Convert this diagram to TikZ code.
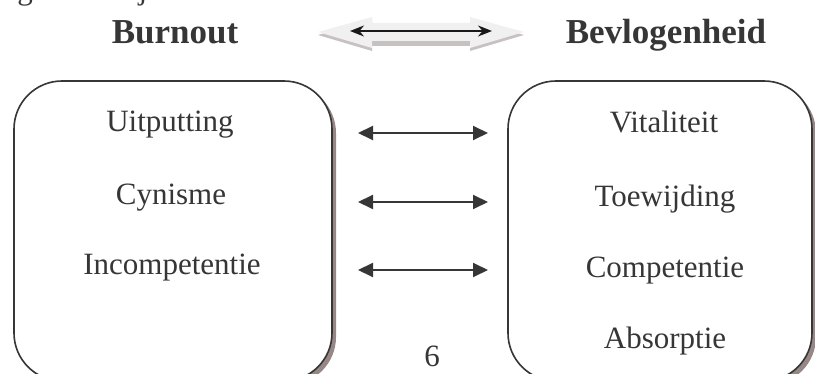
\documentclass[tikz,border=0pt]{standalone}
\usepackage{fontspec}
\setmainfont{Liberation Serif}
\usetikzlibrary{arrows.meta,shadows}
\definecolor{strokec}{HTML}{363636}
\definecolor{shadowc}{HTML}{968886}
\definecolor{fatc}{HTML}{F0F0F0}
\definecolor{fatshadow}{HTML}{C8C1C1}
\tikzset{
  box/.style={draw=strokec, line width=1.6pt, fill=white, rounded corners=48pt,
    drop shadow={shadow xshift=4pt, shadow yshift=-4pt, fill=shadowc, opacity=1}},
  lbl/.style={anchor=base, inner sep=0pt, text=strokec, font=\fontsize{31}{36}\selectfont},
  head/.style={anchor=base, inner sep=0pt, text=strokec, font=\fontsize{35}{40}\selectfont\bfseries},
  link/.style={draw=strokec, line width=2pt, {Triangle[length=15pt,width=14pt]}-{Triangle[length=15pt,width=14pt]}},
  thin link/.style={draw=black!90, line width=1.6pt, {Stealth[length=14pt,width=11pt]}-{Stealth[length=14pt,width=11pt]}}
}
\begin{document}
\begin{tikzpicture}[x=1pt,y=-1pt]
\useasboundingbox (0,0) rectangle (815,374);
% partial line at top (only descenders visible)
\node[lbl] (topg) at (25,0) {g};
\node[lbl] (topj) at (143,0) {j};
% headings
\node[head] (burn) at (175,44) {Burnout};
\node[head] (bevl) at (666,44) {Bevlogenheid};
% fat double arrow with shadow
\fill[fatshadow] (318,35) -- (372,20) -- (372,27) -- (470,27) -- (470,20) -- (524,35) -- (470,51) -- (470,46) -- (372,46) -- (372,51) -- cycle;
\fill[fatc] (318,32) -- (372,17) -- (372,23) -- (470,23) -- (470,17) -- (524,32) -- (470,48) -- (470,41) -- (372,41) -- (372,48) -- cycle;
\coordinate (ta) at (350,31);
\coordinate (tb) at (492,31);
\draw[thin link] (ta) -- (tb);
% boxes
\node[box, minimum width=318pt, minimum height=300pt] (L) at (173,231) {};
\node[box, minimum width=304pt, minimum height=300pt] (R) at (660,231) {};
% labels
\node[lbl] (l1) at (170,132) {Uitputting};
\node[lbl] (l2) at (171,205) {Cynisme};
\node[lbl] (l3) at (172,275) {Incompetentie};
\node[lbl] (r1) at (664,133) {Vitaliteit};
\node[lbl] (r2) at (665,207) {Toewijding};
\node[lbl] (r3) at (665,278) {Competentie};
\node[lbl] (r4) at (665,349) {Absorptie};
% links
\coordinate (a1) at (358,133); \coordinate (b1) at (488,133);
\coordinate (a2) at (358,202); \coordinate (b2) at (488,202);
\coordinate (a3) at (358,270); \coordinate (b3) at (488,270);
\draw[link] (a1) -- (b1);
\draw[link] (a2) -- (b2);
\draw[link] (a3) -- (b3);
% page number
\node[lbl] (pg) at (432,367) {6};
\end{tikzpicture}
\end{document}
